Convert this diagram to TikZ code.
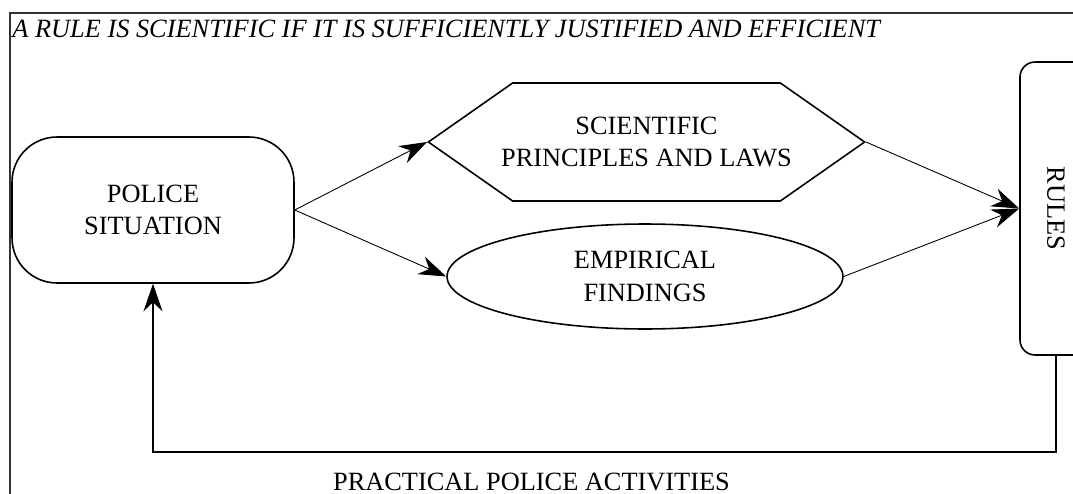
\documentclass[tikz,border=0pt]{standalone}
\usepackage{fontspec}
\setmainfont{Liberation Serif}
\usepackage{graphicx}
\usetikzlibrary{shapes.geometric, shapes.symbols, arrows.meta}
\tikzstyle{situation} = [rectangle, rounded corners=0.9cm, minimum width=5.64cm, minimum height=2.92cm, align=center, draw=black, line width=0.9pt, font=\fontsize{15}{18.5}\selectfont]
\tikzstyle{laws} = [signal, signal to=west and east, signal pointer angle=70, inner xsep=-0.23cm, minimum height=2.36cm, align=center, draw=black, line width=0.9pt, font=\fontsize{15}{18.5}\selectfont]
\tikzstyle{findings} = [ellipse, minimum width=7.92cm, minimum height=2.1cm, inner sep=0pt, align=center, draw=black, line width=0.9pt, font=\fontsize{15}{18.5}\selectfont]
\tikzstyle{rulebox} = [rectangle, rounded corners=0.3cm, minimum width=1.44cm, minimum height=5.86cm, draw=black, line width=0.9pt, font=\fontsize{15}{18.5}\selectfont]
\tikzstyle{caption} = [inner sep=0pt, font=\fontsize{15}{18.5}\selectfont]
\tikzstyle{arrow} = [line width=0.5pt, -{Stealth[length=0.55cm, width=0.38cm]}]
\tikzstyle{feedback} = [line width=1.1pt, -{Stealth[length=0.55cm, width=0.38cm]}]

\begin{document}
\begin{tikzpicture}[x=0.02cm, y=-0.02cm]
	\useasboundingbox (0,0) rectangle (1073,494);
	\clip (0,0) rectangle (1073,494);
	% frame
	\draw [line width=1.2pt, black!80] (1090,13) -- (10,13) -- (10,510);
	\node (title) [anchor=base west, inner sep=0pt, font=\fontsize{15}{17}\selectfont\itshape] at (12,37) {A RULE IS SCIENTIFIC IF IT IS SUFFICIENTLY JUSTIFIED AND EFFICIENT};

	\node (police) [situation] at (153,210) {POLICE\\SITUATION};
	\node (sci) [laws] at (646.5,142) {SCIENTIFIC\\PRINCIPLES AND LAWS};
	\node (emp) [findings] at (645,276.5) {EMPIRICAL\\FINDINGS};
	\node (rules) [rulebox] at (1056,208.5) {\rotatebox{-90}{RULES}};
	\node (practice) [caption, anchor=base] at (531.5,490) {PRACTICAL POLICE ACTIVITIES};
	\coordinate (turn) at (1056,452);

	\draw [arrow] (police.east) -- (sci.west);
	\draw [arrow] (police.east) -- (emp.west);
	\draw [arrow] (sci.east) -- (rules.west);
	\draw [arrow] (emp.east) -- (rules.west);
	\draw [feedback] (rules.south) -- (turn) -| (police.south);
\end{tikzpicture}
\end{document}
